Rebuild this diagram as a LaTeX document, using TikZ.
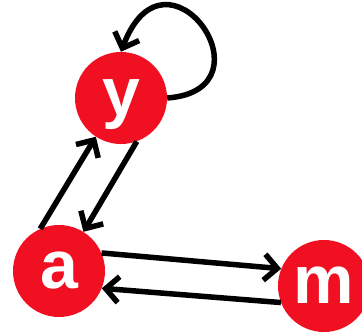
\documentclass[tikz,border=0pt]{standalone}
\usepackage{fontspec}
\setmainfont{Liberation Sans}
\usetikzlibrary{arrows.meta}
\definecolor{nodered}{RGB}{240,16,34}

\begin{document}
\begin{tikzpicture}[x=1pt,y=1pt,>={Straight Barb[length=13pt,width=26pt]}]
    \tikzstyle{every node}=[circle,fill=nodered,draw=none,text=white,minimum size=92pt,inner sep=0pt,font=\fontsize{68}{68}\selectfont\bfseries,text height=35pt,text depth=0pt]
    \tikzstyle{link}=[->,line width=5.5pt]
    \useasboundingbox (0,0) rectangle (362,333);

    \node (y) at (121,235) {y};
    \node (a) at (59,62)   {a};
    \node (m) at (324,47)  {m};

    \path[link] (a.114) edge (y.237)
                (y.290) edge (a.58)
                (a.23)  edge (m.158)
                (m.201) edge (a.338);
    \draw[link] (y.0) .. controls +(110,8) and +(45,120) .. (y.90);
\end{tikzpicture}
\end{document}
